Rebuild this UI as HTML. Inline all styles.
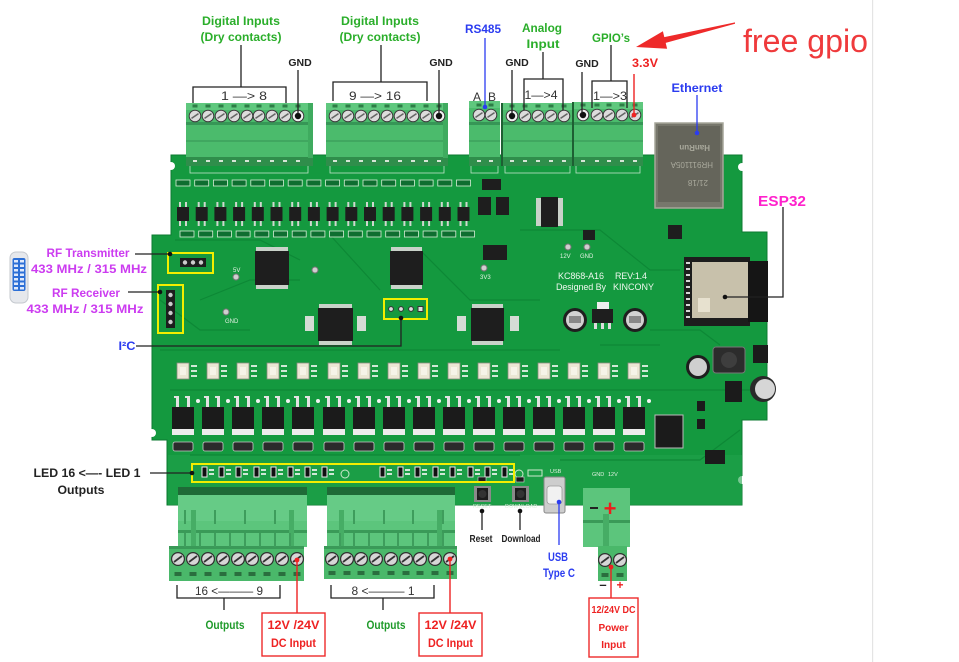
<!DOCTYPE html>
<html><head><meta charset="utf-8"><style>
html,body{margin:0;padding:0;background:#fff;}
body{width:959px;height:662px;overflow:hidden;position:relative;}
svg{position:absolute;left:0;top:0;}
text{font-family:"Liberation Sans",sans-serif;}
.b{font-weight:bold;}
</style></head><body>
<svg width="959" height="662" viewBox="0 0 959 662" xmlns="http://www.w3.org/2000/svg">
<defs>
 <g id="scr"><circle r="5.8" fill="#dcdcdc" stroke="#3c3c3c" stroke-width="1"/><line x1="-3.5" y1="2.4" x2="3.5" y2="-2.4" stroke="#666" stroke-width="1.6"/></g>
 <g id="scrk"><circle r="5.8" fill="#f2f2f2" stroke="#3c3c3c" stroke-width="1"/><circle r="3.2" fill="#111"/></g>
 <g id="bscr"><circle r="6.4" fill="#d6d6d6" stroke="#2e2e2e" stroke-width="1.2"/><line x1="-4" y1="3" x2="4" y2="-3" stroke="#333" stroke-width="1.8"/></g>
 <g id="tab"><rect x="-2.5" y="-1.5" width="5" height="3" fill="#2d7d45"/></g>
 <g id="slot"><rect x="-3.5" y="-2" width="7" height="4" fill="#2a6e3e"/></g>
 <g id="sop"><rect x="-4" y="-5" width="2" height="5" fill="#cfd8cf"/><rect x="2" y="-5" width="2" height="5" fill="#cfd8cf"/><rect x="-4" y="14" width="2" height="5" fill="#cfd8cf"/><rect x="2" y="14" width="2" height="5" fill="#cfd8cf"/><rect x="-6" y="0" width="12" height="14" fill="#1e1e1e"/></g>
 <g id="pad"><rect x="-7" y="0" width="14" height="6" fill="#0e6e30" stroke="#d6eed6" stroke-width=".8"/></g>
 <g id="op"><rect x="-6" y="0" width="12" height="16" fill="#ebe6d4" stroke="#8d8d80" stroke-width=".8"/><rect x="-3" y="4" width="6" height="8" fill="#f6f3e8"/><rect x="8" y="2" width="6" height="2" fill="#cfe8d6"/><rect x="8" y="7" width="6" height="2" fill="#cfe8d6"/><rect x="8" y="12" width="6" height="2" fill="#cfe8d6"/></g>
 <g id="mf"><rect x="-7" y="-10" width="3" height="10" fill="#e2e2e2"/><rect x="4" y="-10" width="3" height="10" fill="#e2e2e2"/><rect x="-9" y="-11" width="5" height="2" fill="#e2e2e2"/><rect x="2" y="-11" width="5" height="2" fill="#e2e2e2"/><rect x="-11" y="0" width="22" height="22" fill="#1b1b1b"/><rect x="-11" y="22" width="22" height="6" fill="#ececec"/><circle cx="15" cy="-6" r="2" fill="#f2f2f2"/></g>
 <g id="dio"><rect x="-10" y="0" width="20" height="9" rx="2" fill="#2b2b2b" stroke="#c8c8c8" stroke-width=".8"/></g>
 <g id="led"><rect x="-2" y="0" width="5" height="10" fill="#111" stroke="#e8e8e8" stroke-width="1"/><rect x="5" y="2" width="5" height="2" fill="#cfe8d6"/><rect x="5" y="6" width="5" height="2" fill="#cfe8d6"/></g>
 <g id="rib"><rect x="-1" y="0" width="2" height="14" fill="#3e9d5c"/></g>
</defs>

<rect x="872" y="0" width="1.2" height="662" fill="#e4e4e4"/>

<!-- Board -->
<path d="M171,155 H742 V232 H767 V420 H742 V505 H167 V440 H152 V235 H171 Z" fill="#14993f"/>
<path d="M171,155 H742 V232 H767 V420 H742 V505 H167 V440 H152 V235 H171 Z" fill="none" stroke="#0d7a31" stroke-width="1"/>
<circle cx="171" cy="166" r="4" fill="#fff"/>
<circle cx="742" cy="167" r="4" fill="#fff"/>
<circle cx="152" cy="433" r="4" fill="#fff"/>
<circle cx="742" cy="480" r="4" fill="#fff"/>
<rect x="168" y="455" width="574" height="50" fill="#20a24b" opacity=".6"/>

<g stroke="#0c8534" stroke-width="1.2" fill="none" opacity=".8">
 <path d="M175,240 L260,240 L300,260"/><path d="M200,300 L250,280 L300,280"/><path d="M160,350 L560,350"/>
 <path d="M420,250 L470,300 L540,300"/><path d="M330,235 L380,290"/><path d="M520,230 L600,230 L650,270 L680,270"/>
 <path d="M170,390 L760,390"/><path d="M650,330 L700,330 L720,345"/><path d="M190,455 L520,455"/><path d="M560,460 L700,460 L740,430"/>
 <path d="M160,300 L200,330 L250,330"/><path d="M600,345 L660,345"/>
</g>

<!-- header outlines under top blocks -->
<g fill="none" stroke="#bfe3c8" stroke-width=".8">
 <rect x="190" y="165" width="118" height="8"/><rect x="330" y="165" width="114" height="8"/>
 <rect x="471" y="165" width="27" height="8"/><rect x="505" y="165" width="65" height="8"/><rect x="576" y="165" width="64" height="8"/>
</g>

<g>
 <use href="#pad" x="183" y="180"/><use href="#pad" x="201.7" y="180"/><use href="#pad" x="220.4" y="180"/><use href="#pad" x="239.1" y="180"/><use href="#pad" x="257.8" y="180"/><use href="#pad" x="276.5" y="180"/><use href="#pad" x="295.2" y="180"/><use href="#pad" x="313.9" y="180"/><use href="#pad" x="332.6" y="180"/><use href="#pad" x="351.3" y="180"/><use href="#pad" x="370" y="180"/><use href="#pad" x="388.7" y="180"/><use href="#pad" x="407.4" y="180"/><use href="#pad" x="426.1" y="180"/><use href="#pad" x="444.8" y="180"/><use href="#pad" x="463.5" y="180"/>
 <use href="#sop" x="183" y="207"/><use href="#sop" x="201.7" y="207"/><use href="#sop" x="220.4" y="207"/><use href="#sop" x="239.1" y="207"/><use href="#sop" x="257.8" y="207"/><use href="#sop" x="276.5" y="207"/><use href="#sop" x="295.2" y="207"/><use href="#sop" x="313.9" y="207"/><use href="#sop" x="332.6" y="207"/><use href="#sop" x="351.3" y="207"/><use href="#sop" x="370" y="207"/><use href="#sop" x="388.7" y="207"/><use href="#sop" x="407.4" y="207"/><use href="#sop" x="426.1" y="207"/><use href="#sop" x="444.8" y="207"/><use href="#sop" x="463.5" y="207"/>
 <use href="#pad" x="187" y="231"/><use href="#pad" x="205.7" y="231"/><use href="#pad" x="224.4" y="231"/><use href="#pad" x="243.1" y="231"/><use href="#pad" x="261.8" y="231"/><use href="#pad" x="280.5" y="231"/><use href="#pad" x="299.2" y="231"/><use href="#pad" x="317.9" y="231"/><use href="#pad" x="336.6" y="231"/><use href="#pad" x="355.3" y="231"/><use href="#pad" x="374" y="231"/><use href="#pad" x="392.7" y="231"/><use href="#pad" x="411.4" y="231"/><use href="#pad" x="430.1" y="231"/><use href="#pad" x="448.8" y="231"/><use href="#pad" x="467.5" y="231"/>
</g>

<g fill="#c9d2c9">
 <rect x="256" y="247" width="32" height="5"/><rect x="256" y="284" width="32" height="5"/>
 <rect x="391" y="247" width="31" height="5"/><rect x="391" y="284" width="31" height="5"/>
 <rect x="319" y="304" width="33" height="5"/><rect x="319" y="340" width="33" height="5"/>
 <rect x="472" y="304" width="31" height="5"/><rect x="472" y="340" width="31" height="5"/>
 <rect x="536" y="198" width="27" height="28"/>
</g>
<g fill="#1e1e1e">
 <rect x="255" y="251" width="34" height="34"/>
 <rect x="390" y="251" width="33" height="34"/>
 <rect x="318" y="308" width="35" height="33"/>
 <rect x="471" y="308" width="33" height="33"/>
 <rect x="541" y="197" width="17" height="30"/>
 <rect x="483" y="245" width="24" height="15"/>
 <rect x="482" y="179" width="19" height="11"/>
 <rect x="478" y="197" width="13" height="18"/><rect x="496" y="197" width="13" height="18"/>
 <rect x="583" y="230" width="12" height="10"/>
 <rect x="668" y="225" width="14" height="14"/>
</g>
<g fill="#d5dcd5">
 <rect x="305" y="316" width="9" height="15"/><rect x="357" y="316" width="9" height="15"/><rect x="457" y="316" width="9" height="15"/><rect x="510" y="316" width="9" height="15"/>
</g>

<circle cx="236" cy="277" r="3" fill="#cfcfcf" stroke="#777"/><circle cx="315" cy="270" r="3" fill="#cfcfcf" stroke="#777"/>
<circle cx="226" cy="312" r="3" fill="#cfcfcf" stroke="#777"/><circle cx="484" cy="268" r="3" fill="#cfcfcf" stroke="#777"/>
<circle cx="568" cy="247" r="3" fill="#cfcfcf" stroke="#777"/><circle cx="587" cy="247" r="3" fill="#cfcfcf" stroke="#777"/>
<g fill="#e4f2e4" font-size="6"><text x="225" y="323">GND</text><text x="560" y="258">12V</text><text x="580" y="258">GND</text><text x="480" y="279">3V3</text><text x="233" y="272">5V</text></g>

<g fill="#eef7ee" font-size="9">
 <text x="558" y="279" textLength="46">KC868-A16</text><text x="615" y="279" textLength="32">REV:1.4</text>
 <text x="556" y="290" textLength="50">Designed By</text><text x="613" y="290" textLength="41">KINCONY</text>
</g>

<circle cx="575" cy="320" r="12" fill="#1f1f1f"/><circle cx="575" cy="320" r="9" fill="#d2d2d2"/><rect x="569" y="316" width="12" height="7" fill="#888"/>
<circle cx="635" cy="320" r="12" fill="#1f1f1f"/><circle cx="635" cy="320" r="9" fill="#d2d2d2"/><rect x="629" y="316" width="12" height="7" fill="#888"/>
<rect x="597" y="302" width="12" height="7" fill="#eee"/><rect x="592" y="309" width="21" height="14" fill="#1e1e1e"/>
<rect x="594" y="323" width="3" height="6" fill="#ddd"/><rect x="601" y="323" width="3" height="6" fill="#ddd"/><rect x="608" y="323" width="3" height="6" fill="#ddd"/>

<!-- Ethernet -->
<rect x="655" y="123" width="68" height="85" fill="#77776c"/>
<rect x="658" y="126" width="62" height="76" fill="#65655b"/>
<rect x="655" y="123" width="68" height="85" fill="none" stroke="#a6a69a" stroke-width="1.5"/>
<g fill="#a9a99c" font-size="8" transform="rotate(180 689 165)"><text x="670" y="150">21/18</text><text x="665" y="168">HR911105A</text><text x="668" y="185" class="b">HanRun</text></g>

<!-- ESP32 module -->
<rect x="684" y="257" width="66" height="69" fill="#1d1d1d"/>
<rect x="748" y="261" width="20" height="61" fill="#151515"/>
<rect x="692" y="262" width="56" height="56" fill="#c8c1ab"/>
<rect x="698" y="298" width="12" height="14" fill="#e7e1cf"/>
<g fill="#d8d8d8"><rect x="686" y="262" width="4" height="2"/><rect x="686" y="268" width="4" height="2"/><rect x="686" y="274" width="4" height="2"/><rect x="686" y="280" width="4" height="2"/><rect x="686" y="286" width="4" height="2"/><rect x="686" y="292" width="4" height="2"/><rect x="686" y="298" width="4" height="2"/><rect x="686" y="304" width="4" height="2"/><rect x="686" y="310" width="4" height="2"/><rect x="686" y="316" width="4" height="2"/></g>

<rect x="713" y="347" width="32" height="26" rx="3" fill="#2c2c2c" stroke="#777"/><circle cx="729" cy="360" r="8" fill="#3e3e3e"/>
<circle cx="698" cy="367" r="12" fill="#1e1e1e"/><circle cx="698" cy="367" r="9" fill="#cfcfcf"/>
<circle cx="763" cy="389" r="13" fill="#2a2a2a"/><circle cx="765" cy="389" r="10" fill="#d6d6d6"/>
<rect x="753" y="345" width="15" height="18" fill="#1b1b1b"/>
<rect x="725" y="381" width="17" height="21" fill="#1b1b1b"/>
<rect x="655" y="415" width="28" height="33" fill="#1b1b1b" stroke="#bbb" stroke-width="1"/>
<rect x="705" y="450" width="20" height="14" fill="#1b1b1b"/>
<rect x="697" y="401" width="8" height="10" fill="#1b1b1b"/><rect x="697" y="419" width="8" height="10" fill="#1b1b1b"/>

<g>
 <use href="#op" x="183" y="363"/><use href="#op" x="213" y="363"/><use href="#op" x="243" y="363"/><use href="#op" x="273" y="363"/><use href="#op" x="303" y="363"/><use href="#op" x="334" y="363"/><use href="#op" x="364" y="363"/><use href="#op" x="394" y="363"/><use href="#op" x="424" y="363"/><use href="#op" x="454" y="363"/><use href="#op" x="484" y="363"/><use href="#op" x="514" y="363"/><use href="#op" x="544" y="363"/><use href="#op" x="574" y="363"/><use href="#op" x="604" y="363"/><use href="#op" x="634" y="363"/>
</g>
<g>
 <use href="#mf" x="183" y="407"/><use href="#mf" x="213" y="407"/><use href="#mf" x="243" y="407"/><use href="#mf" x="273" y="407"/><use href="#mf" x="303" y="407"/><use href="#mf" x="334" y="407"/><use href="#mf" x="364" y="407"/><use href="#mf" x="394" y="407"/><use href="#mf" x="424" y="407"/><use href="#mf" x="454" y="407"/><use href="#mf" x="484" y="407"/><use href="#mf" x="514" y="407"/><use href="#mf" x="544" y="407"/><use href="#mf" x="574" y="407"/><use href="#mf" x="604" y="407"/><use href="#mf" x="634" y="407"/>
</g>
<g>
 <use href="#dio" x="183" y="442"/><use href="#dio" x="213" y="442"/><use href="#dio" x="243" y="442"/><use href="#dio" x="273" y="442"/><use href="#dio" x="303" y="442"/><use href="#dio" x="334" y="442"/><use href="#dio" x="364" y="442"/><use href="#dio" x="394" y="442"/><use href="#dio" x="424" y="442"/><use href="#dio" x="454" y="442"/><use href="#dio" x="484" y="442"/><use href="#dio" x="514" y="442"/><use href="#dio" x="544" y="442"/><use href="#dio" x="574" y="442"/><use href="#dio" x="604" y="442"/><use href="#dio" x="634" y="442"/>
</g>
<g>
 <use href="#led" x="204" y="467"/><use href="#led" x="221" y="467"/><use href="#led" x="238" y="467"/><use href="#led" x="256" y="467"/><use href="#led" x="273" y="467"/><use href="#led" x="290" y="467"/><use href="#led" x="307" y="467"/><use href="#led" x="324" y="467"/>
 <use href="#led" x="382" y="467"/><use href="#led" x="400" y="467"/><use href="#led" x="417" y="467"/><use href="#led" x="435" y="467"/><use href="#led" x="452" y="467"/><use href="#led" x="470" y="467"/><use href="#led" x="487" y="467"/><use href="#led" x="504" y="467"/>
</g>
<circle cx="345" cy="474" r="4" fill="none" stroke="#cde8cd"/><circle cx="519" cy="474" r="4" fill="none" stroke="#cde8cd"/>
<rect x="528" y="470" width="14" height="6" fill="none" stroke="#cde8cd"/>

<rect x="474" y="486" width="17" height="16" fill="#8a8a8a"/><rect x="477" y="488" width="11" height="12" fill="#1d1d1d"/><circle cx="482.5" cy="494" r="4" fill="#333"/>
<rect x="512" y="486" width="17" height="16" fill="#8a8a8a"/><rect x="515" y="488" width="11" height="12" fill="#1d1d1d"/><circle cx="520.5" cy="494" r="4" fill="#333"/>
<g fill="#dff0df" font-size="5.5"><text x="473" y="508">RESET</text><text x="505" y="508">DOWNLOAD</text><text x="550" y="473">USB</text><text x="592" y="476">GND</text><text x="608" y="476">12V</text></g>
<rect x="478" y="477" width="8" height="5" fill="#1b1b1b" stroke="#ddd" stroke-width=".6"/><rect x="516" y="477" width="8" height="5" fill="#1b1b1b" stroke="#ddd" stroke-width=".6"/>

<rect x="544" y="477" width="21" height="36" rx="2" fill="#cdcdcd" stroke="#888"/>
<rect x="547" y="486" width="15" height="18" rx="3" fill="#f1f1f1" stroke="#999" stroke-width=".8"/>

<g fill="none" stroke="#f2ee00" stroke-width="2">
 <rect x="168" y="253" width="45" height="20"/>
 <rect x="158" y="285" width="25" height="48"/>
 <rect x="384" y="299" width="43" height="20"/>
 <rect x="192" y="464" width="322" height="18"/>
</g>
<rect x="180" y="258" width="26" height="9" fill="#1d1d1d"/><circle cx="185" cy="262.5" r="2.2" fill="#ccc"/><circle cx="193" cy="262.5" r="2.2" fill="#ccc"/><circle cx="201" cy="262.5" r="2.2" fill="#ccc"/>
<rect x="166" y="290" width="9" height="38" fill="#1d1d1d"/><circle cx="170.5" cy="295" r="2.2" fill="#ccc"/><circle cx="170.5" cy="304" r="2.2" fill="#ccc"/><circle cx="170.5" cy="313" r="2.2" fill="#ccc"/><circle cx="170.5" cy="322" r="2.2" fill="#ccc"/>
<circle cx="391" cy="309" r="2.4" fill="#ddd" stroke="#333"/><circle cx="401" cy="309" r="2.4" fill="#ddd" stroke="#333"/><circle cx="411" cy="309" r="2.4" fill="#ddd" stroke="#333"/><rect x="418" y="306.5" width="5" height="5" fill="#ddd" stroke="#333"/>

<!-- TOP TERMINAL BLOCKS -->
<g>
 <rect x="186" y="103" width="127" height="62" fill="#4bbb6c"/>
 <rect x="186" y="103" width="127" height="7" fill="#5fc87e"/>
 <rect x="186" y="122" width="127" height="3" fill="#369656"/>
 <rect x="186" y="140" width="127" height="2" fill="#40a760"/>
 <rect x="186" y="157" width="127" height="9" fill="#2f8e4b"/>
 <rect x="308" y="103" width="5" height="55" fill="#3fab5f"/>
 <rect x="326" y="103" width="122" height="62" fill="#4bbb6c"/>
 <rect x="326" y="103" width="122" height="7" fill="#5fc87e"/>
 <rect x="326" y="122" width="122" height="3" fill="#369656"/>
 <rect x="326" y="140" width="122" height="2" fill="#40a760"/>
 <rect x="326" y="157" width="122" height="9" fill="#2f8e4b"/>
 <rect x="443" y="103" width="5" height="55" fill="#3fab5f"/>
 <rect x="469" y="101" width="31" height="64" fill="#4bbb6c"/>
 <rect x="469" y="101" width="31" height="7" fill="#5fc87e"/>
 <rect x="469" y="122" width="31" height="3" fill="#369656"/>
 <rect x="469" y="140" width="31" height="2" fill="#40a760"/>
 <rect x="469" y="157" width="31" height="9" fill="#2f8e4b"/>
 <rect x="503" y="103" width="69" height="62" fill="#4bbb6c"/>
 <rect x="503" y="103" width="69" height="7" fill="#5fc87e"/>
 <rect x="503" y="122" width="69" height="3" fill="#369656"/>
 <rect x="503" y="140" width="69" height="2" fill="#40a760"/>
 <rect x="503" y="157" width="69" height="9" fill="#2f8e4b"/>
 <rect x="574" y="102" width="69" height="63" fill="#4bbb6c"/>
 <rect x="574" y="102" width="69" height="7" fill="#5fc87e"/>
 <rect x="574" y="122" width="69" height="3" fill="#369656"/>
 <rect x="574" y="140" width="69" height="2" fill="#40a760"/>
 <rect x="574" y="157" width="69" height="9" fill="#2f8e4b"/>
 <rect x="572" y="102" width="2" height="64" fill="#1e5f33"/>
 <rect x="501" y="103" width="2" height="63" fill="#1e5f33"/>
</g>
<g>
 <use href="#tab" x="195" y="106"/><use href="#tab" x="208" y="106"/><use href="#tab" x="221" y="106"/><use href="#tab" x="234" y="106"/><use href="#tab" x="247" y="106"/><use href="#tab" x="259" y="106"/><use href="#tab" x="272" y="106"/><use href="#tab" x="285" y="106"/><use href="#tab" x="298" y="106"/>
 <use href="#tab" x="335" y="106"/><use href="#tab" x="348" y="106"/><use href="#tab" x="361" y="106"/><use href="#tab" x="374" y="106"/><use href="#tab" x="387" y="106"/><use href="#tab" x="400" y="106"/><use href="#tab" x="413" y="106"/><use href="#tab" x="426" y="106"/><use href="#tab" x="439" y="106"/>
 <use href="#tab" x="479" y="105"/><use href="#tab" x="491" y="105"/>
 <use href="#tab" x="512" y="106"/><use href="#tab" x="525" y="106"/><use href="#tab" x="538" y="106"/><use href="#tab" x="551" y="106"/><use href="#tab" x="564" y="106"/>
 <use href="#tab" x="583" y="105"/><use href="#tab" x="597" y="105"/><use href="#tab" x="609" y="105"/><use href="#tab" x="622" y="105"/><use href="#tab" x="635" y="105"/>
</g>
<g fill="#d6e6d6">
 <rect x="193" y="160" width="4" height="2"/><rect x="206" y="160" width="4" height="2"/><rect x="219" y="160" width="4" height="2"/><rect x="232" y="160" width="4" height="2"/><rect x="245" y="160" width="4" height="2"/><rect x="257" y="160" width="4" height="2"/><rect x="270" y="160" width="4" height="2"/><rect x="283" y="160" width="4" height="2"/><rect x="296" y="160" width="4" height="2"/>
 <rect x="333" y="160" width="4" height="2"/><rect x="346" y="160" width="4" height="2"/><rect x="359" y="160" width="4" height="2"/><rect x="372" y="160" width="4" height="2"/><rect x="385" y="160" width="4" height="2"/><rect x="398" y="160" width="4" height="2"/><rect x="411" y="160" width="4" height="2"/><rect x="424" y="160" width="4" height="2"/><rect x="437" y="160" width="4" height="2"/>
 <rect x="477" y="160" width="4" height="2"/><rect x="489" y="160" width="4" height="2"/>
 <rect x="510" y="160" width="4" height="2"/><rect x="523" y="160" width="4" height="2"/><rect x="536" y="160" width="4" height="2"/><rect x="549" y="160" width="4" height="2"/><rect x="562" y="160" width="4" height="2"/>
 <rect x="581" y="160" width="4" height="2"/><rect x="595" y="160" width="4" height="2"/><rect x="607" y="160" width="4" height="2"/><rect x="620" y="160" width="4" height="2"/><rect x="633" y="160" width="4" height="2"/>
</g>
<g>
 <use href="#scr" x="195" y="116"/><use href="#scr" x="208" y="116"/><use href="#scr" x="221" y="116"/><use href="#scr" x="234" y="116"/><use href="#scr" x="247" y="116"/><use href="#scr" x="259" y="116"/><use href="#scr" x="272" y="116"/><use href="#scr" x="285" y="116"/><use href="#scrk" x="298" y="116"/>
 <use href="#scr" x="335" y="116"/><use href="#scr" x="348" y="116"/><use href="#scr" x="361" y="116"/><use href="#scr" x="374" y="116"/><use href="#scr" x="387" y="116"/><use href="#scr" x="400" y="116"/><use href="#scr" x="413" y="116"/><use href="#scr" x="426" y="116"/><use href="#scrk" x="439" y="116"/>
 <use href="#scr" x="479" y="115"/><use href="#scr" x="491" y="115"/>
 <use href="#scrk" x="512" y="116"/><use href="#scr" x="525" y="116"/><use href="#scr" x="538" y="116"/><use href="#scr" x="551" y="116"/><use href="#scr" x="564" y="116"/>
 <use href="#scrk" x="583" y="115"/><use href="#scr" x="597" y="115"/><use href="#scr" x="609" y="115"/><use href="#scr" x="622" y="115"/><use href="#scr" x="635" y="115"/>
</g>

<!-- BOTTOM TERMINAL BLOCKS -->
<rect x="178" y="487" width="129" height="9" fill="#1f6a37"/>
<rect x="178" y="495" width="129" height="52" fill="#5cc57c"/>
<rect x="178" y="495" width="129" height="26" fill="#66cb86"/>
<rect x="178" y="530" width="129" height="3" fill="#3a9a58"/>
<rect x="191" y="510" width="5" height="36" fill="#46ad65"/><rect x="289" y="510" width="5" height="36" fill="#46ad65"/>
<rect x="169" y="546" width="135" height="35" fill="#4ab86a"/>
<rect x="169" y="546" width="135" height="3" fill="#3a9a58"/>
<rect x="327" y="487" width="128" height="9" fill="#1f6a37"/>
<rect x="327" y="495" width="128" height="52" fill="#5cc57c"/>
<rect x="327" y="495" width="128" height="26" fill="#66cb86"/>
<rect x="327" y="530" width="128" height="3" fill="#3a9a58"/>
<rect x="339" y="510" width="5" height="36" fill="#46ad65"/><rect x="437" y="510" width="5" height="36" fill="#46ad65"/>
<rect x="324" y="546" width="133" height="33" fill="#4ab86a"/>
<rect x="324" y="546" width="133" height="3" fill="#3a9a58"/>
<g>
 <use href="#rib" x="185" y="533"/><use href="#rib" x="200" y="533"/><use href="#rib" x="215" y="533"/><use href="#rib" x="230" y="533"/><use href="#rib" x="245" y="533"/><use href="#rib" x="260" y="533"/><use href="#rib" x="275" y="533"/><use href="#rib" x="290" y="533"/>
 <use href="#rib" x="340" y="533"/><use href="#rib" x="354" y="533"/><use href="#rib" x="369" y="533"/><use href="#rib" x="384" y="533"/><use href="#rib" x="398" y="533"/><use href="#rib" x="413" y="533"/><use href="#rib" x="428" y="533"/><use href="#rib" x="443" y="533"/>
 <use href="#rib" x="185" y="510"/><use href="#rib" x="215" y="510"/><use href="#rib" x="245" y="510"/><use href="#rib" x="275" y="510"/>
 <use href="#rib" x="354" y="510"/><use href="#rib" x="384" y="510"/><use href="#rib" x="413" y="510"/><use href="#rib" x="443" y="510"/>
</g>
<g>
 <use href="#bscr" x="178" y="559"/><use href="#bscr" x="193" y="559"/><use href="#bscr" x="208" y="559"/><use href="#bscr" x="223" y="559"/><use href="#bscr" x="238" y="559"/><use href="#bscr" x="252" y="559"/><use href="#bscr" x="267" y="559"/><use href="#bscr" x="282" y="559"/><use href="#bscr" x="297" y="559"/>
 <use href="#bscr" x="332" y="559"/><use href="#bscr" x="347" y="559"/><use href="#bscr" x="361" y="559"/><use href="#bscr" x="376" y="559"/><use href="#bscr" x="391" y="559"/><use href="#bscr" x="406" y="559"/><use href="#bscr" x="420" y="559"/><use href="#bscr" x="435" y="559"/><use href="#bscr" x="450" y="559"/>
 <use href="#slot" x="178" y="574"/><use href="#slot" x="193" y="574"/><use href="#slot" x="208" y="574"/><use href="#slot" x="223" y="574"/><use href="#slot" x="238" y="574"/><use href="#slot" x="252" y="574"/><use href="#slot" x="267" y="574"/><use href="#slot" x="282" y="574"/><use href="#slot" x="297" y="574"/>
 <use href="#slot" x="332" y="573"/><use href="#slot" x="347" y="573"/><use href="#slot" x="361" y="573"/><use href="#slot" x="376" y="573"/><use href="#slot" x="391" y="573"/><use href="#slot" x="406" y="573"/><use href="#slot" x="420" y="573"/><use href="#slot" x="435" y="573"/><use href="#slot" x="450" y="573"/>
</g>
<rect x="583" y="488" width="47" height="59" fill="#5cc57c"/>
<rect x="583" y="520" width="47" height="3" fill="#3a9a58"/>
<rect x="603" y="514" width="6" height="33" fill="#46ad65"/>
<rect x="598" y="546" width="29" height="35" fill="#4ab86a"/>
<use href="#bscr" x="605" y="560"/><use href="#bscr" x="620" y="560"/>
<use href="#slot" x="605" y="575"/><use href="#slot" x="620" y="575"/>
<rect x="590" y="507" width="8" height="2" fill="#222"/>
<text x="610" y="516" font-size="22" fill="#ee1c1c" class="b" text-anchor="middle">+</text>

<!-- CONNECTOR LINES -->
<g stroke="#222" stroke-width="1.3" fill="none">
 <path d="M241,45 V87 M193,103 V87 H286 V103"/>
 <path d="M298,70 V116"/>
 <path d="M381,45 V82 M333,101 V82 H427 V101"/>
 <path d="M439,70 V116"/>
 <path d="M543,52 V79 M524,110 V79 H563 V110"/>
 <path d="M512,70 V116"/>
 <path d="M611,45 V81 M592,108 V81 H627 V108"/>
 <path d="M582,72 V115"/>
 <path d="M783,207 V297 H725"/>
 <path d="M135,254 H170"/>
 <path d="M128,292 H160"/>
 <path d="M136,346 H401 V318"/>
 <path d="M150,473 H192"/>
 <path d="M177,585 V598 H280 V585 M224,598 V610"/>
 <path d="M331,585 V598 H434 V585 M383,598 V610"/>
 <path d="M482,511 V530"/>
 <path d="M520,511 V530"/>
</g>
<g fill="#111">
 <circle cx="298" cy="116" r="2.3"/><circle cx="439" cy="116" r="2.3"/><circle cx="512" cy="116" r="2.3"/><circle cx="582" cy="115" r="2.3"/>
 <circle cx="725" cy="297" r="2.3"/><circle cx="170" cy="254" r="2.3"/><circle cx="160" cy="292" r="2.3"/><circle cx="401" cy="318" r="2.3"/><circle cx="192" cy="473" r="2.3"/>
 <circle cx="482" cy="511" r="2.3"/><circle cx="520" cy="511" r="2.3"/>
</g>
<g stroke="#2b3cf0" stroke-width="1.3" fill="none">
 <path d="M485,38 V107"/><path d="M697,95 V133"/><path d="M559,502 V545"/>
</g>
<g fill="#2b3cf0"><circle cx="485" cy="107" r="2.3"/><circle cx="697" cy="133" r="2.3"/><circle cx="559" cy="502" r="2.3"/></g>
<g stroke="#ee2222" stroke-width="1.4" fill="none">
 <path d="M634,74 V115"/><path d="M297,560 V613"/><path d="M450,559 V613"/><path d="M611,567 V598"/>
</g>
<g fill="#ee2222"><circle cx="634" cy="115" r="2.4"/><circle cx="297" cy="560" r="2.4"/><circle cx="450" cy="559" r="2.4"/><circle cx="611" cy="567" r="2.4"/></g>

<g fill="#fff" stroke="#ee2a2a" stroke-width="1.4">
 <rect x="262" y="613" width="63" height="43"/>
 <rect x="419" y="613" width="63" height="43"/>
 <rect x="589" y="598" width="49" height="59"/>
</g>

<polygon points="735,22.4 664.3,37.1 662.9,31.3 636,47 667.1,48.7 665.7,42.9 735,23.8" fill="#ee2a2a"/>

<!-- LABELS -->
<g font-weight="bold" fill="#2aae2a" font-size="12" text-anchor="middle">
 <text x="241" y="25" textLength="78" lengthAdjust="spacingAndGlyphs">Digital Inputs</text>
 <text x="241" y="41" textLength="81" lengthAdjust="spacingAndGlyphs">(Dry contacts)</text>
 <text x="380" y="25" textLength="78" lengthAdjust="spacingAndGlyphs">Digital Inputs</text>
 <text x="380" y="41" textLength="81" lengthAdjust="spacingAndGlyphs">(Dry contacts)</text>
 <text x="542" y="32" textLength="40" lengthAdjust="spacingAndGlyphs">Analog</text>
 <text x="543" y="48" textLength="33" lengthAdjust="spacingAndGlyphs">Input</text>
 <text x="611" y="42" textLength="38" lengthAdjust="spacingAndGlyphs">GPIO’s</text>
</g>
<g font-weight="bold" fill="#1f9a2a" font-size="12" text-anchor="middle">
 <text x="225" y="629" textLength="39" lengthAdjust="spacingAndGlyphs">Outputs</text>
 <text x="386" y="629" textLength="39" lengthAdjust="spacingAndGlyphs">Outputs</text>
</g>
<g font-weight="bold" fill="#222" font-size="10.5" text-anchor="middle">
 <text x="300" y="66">GND</text><text x="441" y="66">GND</text><text x="517" y="66">GND</text><text x="587" y="67">GND</text>
 <text x="481" y="542" textLength="23" lengthAdjust="spacingAndGlyphs">Reset</text>
 <text x="521" y="542" textLength="39" lengthAdjust="spacingAndGlyphs">Download</text>
</g>
<g fill="#333" font-size="12" text-anchor="middle">
 <text x="244" y="100" textLength="46" lengthAdjust="spacingAndGlyphs">1 —&gt; 8</text>
 <text x="375" y="100" textLength="52" lengthAdjust="spacingAndGlyphs">9 —&gt; 16</text>
 <text x="541" y="99" textLength="33" lengthAdjust="spacingAndGlyphs">1—&gt;4</text>
 <text x="610" y="100" textLength="34" lengthAdjust="spacingAndGlyphs">1—&gt;3</text>
 <text x="477" y="101">A</text><text x="492" y="101">B</text>
 <text x="229" y="595" textLength="68" lengthAdjust="spacingAndGlyphs">16 &lt;——— 9</text>
 <text x="383" y="595" textLength="63" lengthAdjust="spacingAndGlyphs">8 &lt;——— 1</text>
</g>
<g font-weight="bold" fill="#2b3cf0" font-size="12" text-anchor="middle">
 <text x="483" y="33" textLength="36" lengthAdjust="spacingAndGlyphs">RS485</text>
 <text x="697" y="92" textLength="51" lengthAdjust="spacingAndGlyphs">Ethernet</text>
 <text x="558" y="561" textLength="20" lengthAdjust="spacingAndGlyphs">USB</text>
 <text x="559" y="577" textLength="32" lengthAdjust="spacingAndGlyphs">Type C</text>
 <text x="127" y="350" textLength="17" lengthAdjust="spacingAndGlyphs">I²C</text>
</g>
<text x="645" y="67" font-weight="bold" fill="#ee2222" font-size="12" text-anchor="middle" textLength="26" lengthAdjust="spacingAndGlyphs">3.3V</text>
<text x="743" y="52" fill="#ef3a3c" font-size="32" textLength="125" lengthAdjust="spacingAndGlyphs">free gpio</text>
<text x="782" y="206" font-weight="bold" fill="#ff22cc" font-size="15" text-anchor="middle" textLength="48" lengthAdjust="spacingAndGlyphs">ESP32</text>
<g font-weight="bold" fill="#cc3cf0" font-size="11.5" text-anchor="middle">
 <text x="88" y="257" textLength="83" lengthAdjust="spacingAndGlyphs">RF Transmitter</text>
 <text x="89" y="273" textLength="116" lengthAdjust="spacingAndGlyphs">433 MHz / 315 MHz</text>
 <text x="86" y="297" textLength="68" lengthAdjust="spacingAndGlyphs">RF Receiver</text>
 <text x="85" y="313" textLength="117" lengthAdjust="spacingAndGlyphs">433 MHz / 315 MHz</text>
</g>
<g font-weight="bold" fill="#222" font-size="12" text-anchor="middle">
 <text x="87" y="477" textLength="107" lengthAdjust="spacingAndGlyphs">LED 16 &lt;—- LED 1</text>
 <text x="81" y="494" textLength="47" lengthAdjust="spacingAndGlyphs">Outputs</text>
</g>
<g font-weight="bold" fill="#ee2222" font-size="11.5" text-anchor="middle">
 <text x="293.5" y="629" textLength="52" lengthAdjust="spacingAndGlyphs">12V /24V</text>
 <text x="293.5" y="647" textLength="45" lengthAdjust="spacingAndGlyphs">DC Input</text>
 <text x="450.5" y="629" textLength="52" lengthAdjust="spacingAndGlyphs">12V /24V</text>
 <text x="450.5" y="647" textLength="45" lengthAdjust="spacingAndGlyphs">DC Input</text>
</g>
<g font-weight="bold" fill="#ee2222" font-size="10" text-anchor="middle">
 <text x="613.5" y="613" textLength="44" lengthAdjust="spacingAndGlyphs">12/24V DC</text>
 <text x="613.5" y="631">Power</text>
 <text x="613.5" y="648">Input</text>
</g>
<text x="603" y="589" font-weight="bold" fill="#222" font-size="13" text-anchor="middle">–</text>
<text x="620" y="589" font-weight="bold" fill="#ee2222" font-size="12" text-anchor="middle">+</text>

<!-- remote control icon -->
<rect x="10" y="252" width="18" height="51" rx="6" fill="#e6e8ec" stroke="#c4c8ce" stroke-width="1"/>
<rect x="12.5" y="258" width="13" height="33" rx="2" fill="#2c6fd6"/>
<g fill="#dfe9fb">
 <rect x="14" y="260" width="4" height="2.5"/><rect x="20" y="260" width="4" height="2.5"/>
 <rect x="14" y="264.5" width="4" height="2.5"/><rect x="20" y="264.5" width="4" height="2.5"/>
 <rect x="14" y="269" width="4" height="2.5"/><rect x="20" y="269" width="4" height="2.5"/>
 <rect x="14" y="273.5" width="4" height="2.5"/><rect x="20" y="273.5" width="4" height="2.5"/>
 <rect x="14" y="278" width="4" height="2.5"/><rect x="20" y="278" width="4" height="2.5"/>
 <rect x="14" y="282.5" width="4" height="2.5"/><rect x="20" y="282.5" width="4" height="2.5"/>
 <rect x="14" y="287" width="4" height="2.5"/><rect x="20" y="287" width="4" height="2.5"/>
</g>
</svg>
</body></html>
